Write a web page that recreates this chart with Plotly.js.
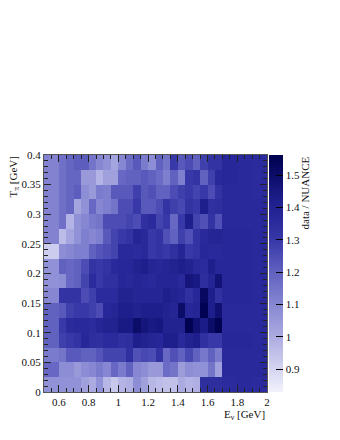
<!DOCTYPE html>
<html><head><meta charset="utf-8">
<script src="https://cdn.plot.ly/plotly-3.0.1.min.js"></script>
<style>html,body{margin:0;padding:0;background:#fff}#c{width:340px;height:440px}</style>
</head><body><div id="c"></div>
<script>
const xEdges=[0.5,0.6,0.65,0.7,0.75,0.8,0.85,0.9,0.95,1,1.05,1.1,1.15,1.2,1.25,1.3,1.35,1.4,1.45,1.5,1.55,1.6,1.65,1.7,1.8,1.9,2];
const yEdges=[0,0.025,0.05,0.075,0.1,0.125,0.15,0.175,0.2,0.225,0.25,0.275,0.3,0.325,0.35,0.375,0.4];
const row01=[1.07,1.07,1.07,1.07,1.03,1.0,1.07,0.97,0.93,0.98,0.99,1.08,1.03,0.97,0.96,0.95,0.95,1.0,0.98,0.99,1.34,1.34,1.34,1.35,1.36,1.35];
const row02=[1.18,1.08,1.08,1.05,1.08,1.1,1.13,1.1,1.18,1.13,1.2,1.1,1.08,1.05,1.05,1.17,1.15,1.04,1.08,1.07,1.07,1.15,1.03,1.36,1.36,1.36];
const row03=[1.13,1.15,1.22,1.22,1.2,1.2,1.23,1.27,1.27,1.27,1.33,1.24,1.26,1.25,1.32,1.18,1.24,1.2,1.26,1.2,1.14,1.2,1.13,1.36,1.36,1.36];
const row04=[1.2,1.28,1.3,1.32,1.37,1.34,1.33,1.35,1.35,1.33,1.34,1.42,1.4,1.38,1.37,1.42,1.42,1.36,1.4,1.42,1.33,1.3,1.3,1.37,1.37,1.36];
const row05=[1.2,1.3,1.35,1.36,1.36,1.35,1.38,1.4,1.4,1.44,1.44,1.5,1.46,1.44,1.45,1.4,1.4,1.4,1.55,1.48,1.43,1.5,1.55,1.36,1.36,1.36];
const row06=[1.2,1.22,1.28,1.3,1.3,1.28,1.25,1.37,1.38,1.42,1.42,1.4,1.42,1.42,1.42,1.4,1.38,1.5,1.37,1.38,1.55,1.42,1.48,1.36,1.36,1.36];
const row07=[1.1,1.32,1.32,1.32,1.25,1.28,1.35,1.35,1.35,1.4,1.4,1.38,1.38,1.38,1.38,1.42,1.4,1.38,1.33,1.37,1.52,1.42,1.33,1.37,1.37,1.36];
const row08=[1.07,1.08,1.18,1.2,1.27,1.35,1.3,1.33,1.33,1.37,1.36,1.38,1.37,1.36,1.38,1.38,1.38,1.36,1.46,1.44,1.34,1.38,1.47,1.37,1.37,1.36];
const row09=[1.07,1.2,1.18,1.2,1.25,1.32,1.3,1.32,1.36,1.37,1.37,1.4,1.42,1.38,1.37,1.38,1.4,1.42,1.4,1.36,1.35,1.42,1.37,1.37,1.37,1.36];
const row10=[0.92,1.08,1.1,1.12,1.12,1.2,1.23,1.25,1.27,1.36,1.36,1.35,1.36,1.3,1.32,1.3,1.33,1.38,1.3,1.32,1.37,1.36,1.36,1.37,1.37,1.36];
const row11=[1.11,0.96,1.02,1.07,1.12,1.1,1.12,1.22,1.27,1.3,1.32,1.38,1.36,1.3,1.32,1.24,1.2,1.28,1.24,1.32,1.36,1.38,1.38,1.37,1.37,1.36];
const row12=[1.11,1.16,0.98,1.07,1.1,1.13,1.15,1.25,1.25,1.25,1.27,1.25,1.33,1.35,1.27,1.3,1.18,1.3,1.42,1.27,1.24,1.32,1.24,1.36,1.36,1.36];
const row13=[1.11,1.16,1.19,1.02,1.07,1.18,1.1,1.12,1.15,1.25,1.25,1.3,1.22,1.22,1.25,1.32,1.28,1.26,1.32,1.3,1.42,1.33,1.34,1.36,1.36,1.36];
const row14=[1.11,1.16,1.19,1.21,1.08,1.05,1.13,1.12,1.22,1.22,1.22,1.28,1.22,1.24,1.2,1.2,1.25,1.28,1.3,1.27,1.3,1.25,1.32,1.36,1.36,1.35];
const row15=[1.11,1.16,1.19,1.19,1.05,1.05,0.98,1.03,1.03,1.18,1.2,1.2,1.22,1.2,1.17,1.12,1.2,1.12,1.3,1.32,1.2,1.28,1.36,1.37,1.36,1.35];
const row16=[1.11,1.16,1.19,1.21,1.21,1.15,1.1,1.07,1.02,1.1,1.17,1.22,1.13,1.08,1.2,1.15,1.3,1.22,1.25,1.2,1.28,1.32,1.32,1.37,1.36,1.35];
const zValues=[row01,row02,row03,row04,row05,row06,row07,row08,row09,row10,row11,row12,row13,row14,row15,row16];
const zMin=0.829, zMax=1.562;
const axisFont={family:'Liberation Serif, serif',size:11,color:'#111'};
const colors=[[0,'#f2f2fc'],[0.23,'#acace2'],[0.37,'#8686d2'],[0.51,'#6060c0'],[0.64,'#3838a8'],[0.73,'#28289a'],[0.81,'#1e1e8c'],[0.9,'#0e0e6e'],[1,'#00004e']];
function ax(minorStep,rng,extra){return Object.assign({range:rng,ticks:'inside',ticklen:7,tickwidth:1,tickcolor:'#222',
  minor:{dtick:minorStep,ticks:'inside',ticklen:4,tickcolor:'#222',tickwidth:1,showgrid:false},
  showline:true,linecolor:'#555',linewidth:1,mirror:'ticks',showgrid:false,zeroline:false,tickfont:axisFont},extra);}
Plotly.newPlot('c',[{type:'heatmap',x:xEdges,y:yEdges,z:zValues,zmin:zMin,zmax:zMax,zsmooth:false,colorscale:colors,xgap:0,ygap:0,
  colorbar:{thickness:14,thicknessmode:'pixels',len:1,lenmode:'fraction',x:1.007,xanchor:'left',xpad:0,ypad:0,y:0,yanchor:'bottom',
    tickvals:[0.9,1,1.1,1.2,1.3,1.4,1.5],ticktext:['0.9','1','1.1','1.2','1.3','1.4','1.5'],ticks:'inside',ticklen:7,tickwidth:1,tickcolor:'#000',
    outlinecolor:'#111',outlinewidth:0,tickfont:axisFont,borderwidth:0}}],
 {width:340,height:440,margin:{l:44,r:72.5,t:155,b:48,pad:0},paper_bgcolor:'#fff',plot_bgcolor:'#fff',font:axisFont,
  xaxis:ax(0.05,[0.5,2],{tickvals:[0.6,0.8,1,1.2,1.4,1.6,1.8,2],ticktext:['0.6','0.8','1','1.2','1.4','1.6','1.8','2']}),
  yaxis:ax(0.01,[0,0.4],{tickvals:[0,0.05,0.1,0.15,0.2,0.25,0.3,0.35,0.4],ticktext:['0','0.05','0.1','0.15','0.2','0.25','0.3','0.35','0.4']}),
  shapes:[{type:'line',xref:'paper',yref:'paper',x0:1.0694,x1:1.0694,y0:0,y1:1,line:{color:'#111',width:1}}],
  annotations:[
   {xref:'paper',yref:'paper',x:1,y:0,yshift:-14,xanchor:'right',yanchor:'top',text:'E<sub>ν</sub> [GeV]',showarrow:false,font:axisFont},
   {xref:'paper',yref:'paper',x:0,y:1,xshift:-31,xanchor:'center',yanchor:'top',textangle:-90,text:'T<sub>π</sub> [GeV]',showarrow:false,font:axisFont},
   {xref:'paper',yref:'paper',x:1,y:1,xshift:37,xanchor:'center',yanchor:'top',textangle:-90,text:'data / NUANCE',showarrow:false,font:axisFont}
  ]},{displayModeBar:false,staticPlot:true});
</script></body></html>
